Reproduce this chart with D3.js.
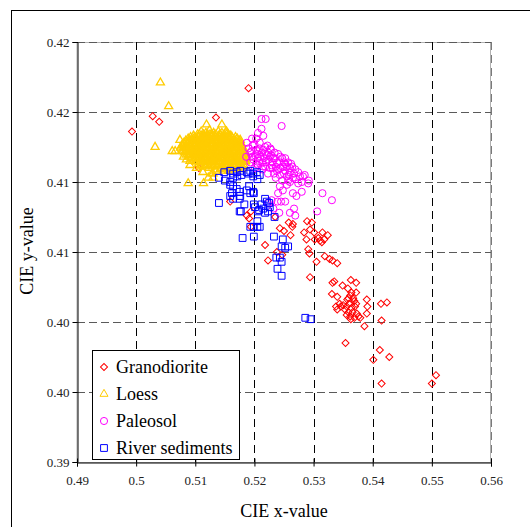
<!DOCTYPE html>
<html lang="en">
<head>
  <meta charset="UTF-8" />
  <title>CIE x-y scatter</title>
  <script src="https://d3js.org/d3.v7.min.js"></script>
  <style>
    body {
      margin: 0;
      background: #fff;
    }
  </style>
</head>
<body>

<svg id="chart" width="530" height="527"></svg>

<script>
/* ---------------- DATA ---------------- */

const categories = ["Granodiorite", "Loess", "Paleosol", "River sediments"];

const xTicks = [0.49, 0.50, 0.51, 0.52, 0.53, 0.54, 0.55, 0.56];
const xTickLabels = ["0.49", "0.5", "0.51", "0.52", "0.53", "0.54", "0.55", "0.56"];
const yTicks = [0.39, 0.395, 0.40, 0.405, 0.41, 0.415, 0.42];
const yTickLabels = ["0.39", "0.40", "0.40", "0.41", "0.41", "0.42", "0.42"];

const granodiorite = [
  [0.4993,0.4136],[0.5028,0.4147],[0.5039,0.4143],[0.5190,0.4167],[0.5135,0.4146],
  [0.5106,0.4110],[0.5159,0.4086],[0.5187,0.4076],[0.5191,0.4074],[0.5194,0.4079],
  [0.5194,0.4068],[0.5218,0.4055],[0.5223,0.4044],[0.5235,0.4075],[0.5238,0.4050],
  [0.5243,0.4067],[0.5258,0.4071],[0.5264,0.4068],[0.5261,0.4062],[0.5284,0.4064],
  [0.5289,0.4072],[0.5288,0.4059],[0.5294,0.4066],[0.5302,0.4059],[0.5308,0.4060],
  [0.5315,0.4064],[0.5314,0.4057],[0.5318,0.4059],[0.5291,0.4052],[0.5293,0.4049],
  [0.5305,0.4043],[0.5319,0.4047],[0.5332,0.4044],[0.5294,0.4032],[0.5332,0.4028],
  [0.5335,0.4029],[0.5349,0.4026],[0.5331,0.4020],[0.5363,0.4030],
  [0.5338,0.4011],[0.5344,0.4013],[0.5346,0.4011],[0.5340,0.4009],[0.5350,0.4012],
  [0.5357,0.4016],[0.5362,0.4019],[0.5359,0.4017],[0.5364,0.4021],[0.5367,0.4017],
  [0.5369,0.4015],[0.5360,0.4013],[0.5356,0.4011],[0.5364,0.4010],[0.5370,0.4011],
  [0.5359,0.4007],[0.5366,0.4007],[0.5373,0.4006],[0.5362,0.4004],[0.5369,0.4003],
  [0.5376,0.4004],[0.5363,0.4002],[0.5356,0.4005],[0.5372,0.4013],[0.5353,0.4009],
  [0.5390,0.4016],[0.5391,0.4011],[0.5390,0.4006],[0.5386,0.3997],[0.5379,0.4003],
  [0.5414,0.4013],[0.5424,0.4014],[0.5415,0.4001],[0.5354,0.3985],[0.5412,0.3980],
  [0.5401,0.3973],[0.5428,0.3975],[0.5415,0.3956],[0.5500,0.3956],[0.5507,0.3962],
  [0.5247,0.4048],[0.5297,0.4071],[0.5265,0.4070],[0.5250,0.4065],[0.5301,0.4064],
  [0.5324,0.4062],[0.5311,0.4058],[0.5327,0.4045],[0.5340,0.4042],[0.5372,0.4028],
  [0.5358,0.4024],[0.5372,0.4021],[0.5340,0.4018]
];

const loess = [
  [0.5041,0.4171],[0.5055,0.4154],[0.5032,0.4125],[0.5061,0.4122],[0.5080,0.4118],
  [0.5088,0.4099],[0.5114,0.4099],[0.5119,0.4141],[0.5145,0.4141],[0.5176,0.4130],
  [0.5122,0.4103],[0.5130,0.4106],[0.5091,0.4115],[0.5108,0.4111],[0.5153,0.4136],
  [0.5066,0.4122],[0.5079,0.4126],[0.5085,0.4116],[0.5091,0.4112],[0.5102,0.4110],
  [0.5113,0.4107],[0.5128,0.4106],[0.5130,0.4103],[0.5074,0.4130],
  [0.5110,0.4136],[0.5118,0.4135],[0.5124,0.4137],[0.5131,0.4135],[0.5139,0.4136],[0.5145,0.4135],[0.5152,0.4136],
  [0.5107,0.4134],[0.5114,0.4134],[0.5121,0.4134],[0.5128,0.4134],[0.5135,0.4134],[0.5142,0.4134],[0.5149,0.4134],[0.5156,0.4134],
  [0.5097,0.4133],[0.5104,0.4134],[0.5111,0.4133],[0.5119,0.4132],[0.5125,0.4134],[0.5132,0.4133],
  [0.5140,0.4133],[0.5146,0.4132],[0.5153,0.4134],[0.5160,0.4133],
  [0.5092,0.4132],[0.5099,0.4132],[0.5106,0.4132],[0.5113,0.4132],[0.5120,0.4132],[0.5127,0.4132],
  [0.5134,0.4132],[0.5141,0.4132],[0.5148,0.4132],[0.5155,0.4132],[0.5162,0.4132],[0.5168,0.4132],
  [0.5088,0.4131],[0.5095,0.4130],[0.5102,0.4131],[0.5109,0.4130],[0.5116,0.4131],[0.5123,0.4130],
  [0.5130,0.4131],[0.5137,0.4130],[0.5144,0.4131],[0.5151,0.4130],[0.5158,0.4131],[0.5165,0.4130],[0.5171,0.4131],
  [0.5084,0.41295],[0.5091,0.41295],[0.5098,0.41295],[0.5105,0.41295],[0.5112,0.41295],[0.5119,0.41295],
  [0.5126,0.41295],[0.5133,0.41295],[0.5140,0.41295],[0.5147,0.41295],[0.5154,0.41295],[0.5161,0.41295],
  [0.5168,0.41295],[0.5174,0.41295],
  [0.5081,0.4128],[0.5088,0.4129],[0.5095,0.4128],[0.5102,0.4127],[0.5109,0.4128],[0.5116,0.4129],
  [0.5123,0.4128],[0.5130,0.4127],[0.5137,0.4128],[0.5144,0.4129],[0.5151,0.4128],[0.5158,0.4127],
  [0.5165,0.4128],[0.5172,0.4128],[0.5177,0.4127],
  [0.5079,0.4127],[0.5086,0.4127],[0.5093,0.4127],[0.5100,0.4127],[0.5107,0.4127],[0.5114,0.4127],
  [0.5121,0.4127],[0.5128,0.4127],[0.5135,0.4127],[0.5142,0.4127],[0.5149,0.4127],[0.5156,0.4127],
  [0.5163,0.4127],[0.5170,0.4127],[0.5177,0.4128],
  [0.5077,0.4126],[0.5084,0.4125],[0.5091,0.4126],[0.5098,0.4126],[0.5105,0.4125],[0.5112,0.4126],
  [0.5119,0.4125],[0.5126,0.4126],[0.5133,0.4126],[0.5140,0.4125],[0.5147,0.4126],[0.5154,0.4125],
  [0.5161,0.4126],[0.5168,0.4125],[0.5175,0.4126],[0.5180,0.4125],
  [0.5075,0.41245],[0.5081,0.41245],[0.5088,0.41245],[0.5095,0.41245],[0.5102,0.41245],[0.5109,0.41245],
  [0.5116,0.41245],[0.5123,0.41245],[0.5130,0.41245],[0.5137,0.41245],[0.5144,0.41245],[0.5151,0.41245],
  [0.5158,0.41245],[0.5165,0.41245],[0.5172,0.41245],[0.5179,0.41245],
  [0.5078,0.4123],[0.5085,0.4124],[0.5092,0.4123],[0.5099,0.4122],[0.5106,0.4123],[0.5113,0.4124],
  [0.5120,0.4123],[0.5127,0.4122],[0.5134,0.4123],[0.5141,0.4124],[0.5148,0.4123],[0.5155,0.4122],
  [0.5162,0.4123],[0.5169,0.4124],[0.5176,0.4123],[0.5182,0.4122],
  [0.5079,0.4122],[0.5086,0.4122],[0.5093,0.4122],[0.5100,0.4122],[0.5107,0.4122],[0.5114,0.4122],
  [0.5121,0.4122],[0.5128,0.4122],[0.5135,0.4122],[0.5142,0.4122],[0.5149,0.4122],[0.5156,0.4122],
  [0.5163,0.4122],[0.5170,0.4122],[0.5177,0.4122],[0.5183,0.4121],
  [0.5082,0.4121],[0.5089,0.4120],[0.5096,0.4121],[0.5103,0.4121],[0.5110,0.4120],[0.5117,0.4121],
  [0.5124,0.4120],[0.5131,0.4121],[0.5138,0.4121],[0.5145,0.4120],[0.5152,0.4121],[0.5159,0.4120],
  [0.5166,0.4121],[0.5173,0.4120],[0.5180,0.4121],[0.5185,0.4120],
  [0.5085,0.41195],[0.5092,0.41195],[0.5099,0.41195],[0.5106,0.41195],[0.5113,0.41195],[0.5120,0.41195],
  [0.5127,0.41195],[0.5134,0.41195],[0.5141,0.41195],[0.5148,0.41195],[0.5155,0.41195],[0.5162,0.41195],
  [0.5169,0.41195],[0.5176,0.41195],[0.5183,0.41195],
  [0.5089,0.4118],[0.5096,0.4119],[0.5103,0.4118],[0.5110,0.4117],[0.5117,0.4118],[0.5124,0.4119],
  [0.5131,0.4118],[0.5138,0.4117],[0.5145,0.4118],[0.5152,0.4119],[0.5159,0.4118],[0.5166,0.4117],
  [0.5173,0.4118],[0.5180,0.4118],[0.5186,0.4117],
  [0.5093,0.4117],[0.5100,0.4117],[0.5107,0.4117],[0.5114,0.4117],[0.5121,0.4117],[0.5128,0.4117],
  [0.5135,0.4117],[0.5142,0.4117],[0.5149,0.4117],[0.5156,0.4117],[0.5163,0.4117],[0.5170,0.4117],
  [0.5177,0.4117],[0.5184,0.4116],
  [0.5097,0.4116],[0.5104,0.4115],[0.5111,0.4116],[0.5118,0.4116],[0.5125,0.4115],[0.5132,0.4116],
  [0.5139,0.4115],[0.5146,0.4116],[0.5153,0.4116],[0.5160,0.4115],[0.5167,0.4116],[0.5174,0.4115],
  [0.5181,0.4116],[0.5185,0.4115],
  [0.5101,0.41145],[0.5108,0.41145],[0.5115,0.41145],[0.5122,0.41145],[0.5129,0.41145],[0.5136,0.41145],
  [0.5143,0.41145],[0.5150,0.41145],[0.5157,0.41145],[0.5164,0.41145],[0.5171,0.41145],[0.5178,0.41145],
  [0.5184,0.41145],
  [0.5106,0.4113],[0.5113,0.4114],[0.5120,0.4113],[0.5127,0.4112],[0.5134,0.4113],[0.5141,0.4114],
  [0.5148,0.4113],[0.5155,0.4112],[0.5162,0.4113],[0.5169,0.4114],[0.5176,0.4113],[0.5182,0.4112],
  [0.5111,0.4112],[0.5118,0.4112],[0.5125,0.4112],[0.5132,0.4112],[0.5139,0.4112],[0.5146,0.4112],
  [0.5153,0.4112],[0.5160,0.4112],[0.5167,0.4112],[0.5174,0.4112],[0.5180,0.4111],
  [0.5116,0.4111],[0.5123,0.4110],[0.5130,0.4111],[0.5137,0.4111],[0.5144,0.4110],[0.5151,0.4111],
  [0.5158,0.4110],[0.5165,0.4111],[0.5172,0.4110],[0.5178,0.4109],
  [0.5135,0.4108],[0.5142,0.4109],[0.5149,0.4108],[0.5156,0.4108],[0.5163,0.4109]
];

const paleosol = [
  [0.5190,0.4124],[0.5197,0.4126],[0.5203,0.4123],[0.5193,0.4121],[0.5201,0.4119],
  [0.5209,0.4124],[0.5213,0.4121],[0.5206,0.4117],[0.5216,0.4117],[0.5223,0.4121],
  [0.5220,0.4114],[0.5226,0.4118],[0.5230,0.4114],[0.5235,0.4117],[0.5213,0.4114],
  [0.5198,0.4116],[0.5206,0.4112],[0.5218,0.4111],[0.5226,0.4110],[0.5236,0.4111],
  [0.5243,0.4114],[0.5240,0.4109],[0.5248,0.4111],[0.5252,0.4108],[0.5233,0.4106],
  [0.5243,0.4105],[0.5255,0.4104],[0.5260,0.4107],[0.5223,0.4106],[0.5213,0.4109],
  [0.5201,0.4110],[0.5193,0.4114],[0.5209,0.4128],[0.5218,0.4125],[0.5228,0.4123],
  [0.5240,0.4120],[0.5247,0.4117],[0.5257,0.4114],[0.5264,0.4111],[0.5269,0.4109],
  [0.5274,0.4107],[0.5277,0.4104],[0.5265,0.4103],[0.5257,0.4101],[0.5247,0.4101],
  [0.5236,0.4103],[0.5186,0.4118],[0.5206,0.4122],[0.5221,0.4119],[0.5231,0.4110],
  [0.5252,0.4113],[0.5260,0.4110],
  [0.5195,0.4122],[0.5200,0.4127],[0.5205,0.4120],[0.5210,0.4118],[0.5215,0.4123],
  [0.5219,0.4120],[0.5224,0.4116],[0.5228,0.4119],[0.5232,0.4117],[0.5229,0.4112],
  [0.5238,0.4114],[0.5244,0.4110],[0.5250,0.4114],[0.5255,0.4111],[0.5262,0.4113],
  [0.5267,0.4106],[0.5258,0.4105],[0.5250,0.4106],[0.5238,0.4108],[0.5215,0.4111],
  [0.5208,0.4115],[0.5196,0.4118],[0.5203,0.4113],[0.5227,0.4124],[0.5234,0.4121],
  [0.5244,0.4118],[0.5252,0.4117],[0.5270,0.4102],[0.5280,0.4100],[0.5285,0.4105],
  [0.5203,0.4131],[0.5215,0.4133],[0.5206,0.4135],
  [0.5212,0.4145],[0.5219,0.4145],[0.5246,0.4140],[0.5212,0.4138],[0.5196,0.4131],
  [0.5222,0.4126],[0.5187,0.4128],[0.5282,0.4104],[0.5291,0.4099],[0.5274,0.4099],
  [0.5280,0.4093],[0.5265,0.4092],[0.5260,0.4100],[0.5255,0.4098],[0.5243,0.4097],
  [0.5248,0.4094],[0.5240,0.4092],[0.5292,0.4101],[0.5315,0.4092],[0.5331,0.4087],
  [0.5306,0.4079],[0.5267,0.4081],[0.5260,0.4078],[0.5245,0.4086],[0.5239,0.4086],
  [0.5242,0.4078],[0.5223,0.4085],[0.5229,0.4087],[0.5232,0.4081],[0.5271,0.4090],
  [0.5269,0.4076],[0.5252,0.4086]
];

const riverSediments = [
  [0.5149,0.4107],[0.5159,0.4108],[0.5164,0.4106],[0.5170,0.4107],[0.5176,0.4108],
  [0.5187,0.4107],[0.5193,0.4108],[0.5198,0.4106],[0.5204,0.4107],[0.5209,0.4105],
  [0.5140,0.4103],[0.5150,0.4101],[0.5159,0.4100],[0.5164,0.4103],[0.5171,0.4104],
  [0.5178,0.4105],[0.5190,0.4106],[0.5198,0.4104],[0.5205,0.4102],[0.5159,0.4098],
  [0.5164,0.4097],[0.5170,0.4095],[0.5162,0.4092],[0.5175,0.4093],[0.5187,0.4094],
  [0.5191,0.4097],[0.5198,0.4093],[0.5193,0.4092],[0.5199,0.4092],[0.5159,0.4090],
  [0.5176,0.4090],[0.5164,0.4088],[0.5175,0.4088],[0.5140,0.4085],[0.5183,0.4084],
  [0.5199,0.4084],[0.5201,0.4082],[0.5218,0.4088],[0.5221,0.4086],[0.5225,0.4085],
  [0.5226,0.4082],[0.5223,0.4079],[0.5218,0.4078],[0.5215,0.4081],[0.5212,0.4084],
  [0.5175,0.4079],[0.5177,0.4079],[0.5208,0.4080],[0.5206,0.4079],[0.5234,0.4075],
  [0.5193,0.4068],[0.5199,0.4068],[0.5205,0.4068],[0.5209,0.4068],[0.5205,0.4072],
  [0.5180,0.4060],[0.5199,0.4061],[0.5233,0.4061],[0.5248,0.4059],[0.5246,0.4054],
  [0.5252,0.4053],[0.5257,0.4054],[0.5237,0.4046],[0.5243,0.4046],[0.5246,0.4043],
  [0.5239,0.4038],[0.5246,0.4033],[0.5286,0.4003],[0.5295,0.4002]
];

const seriesColors = ["#ff0000", "#ffcc00", "#ff00ff", "#0000ff"];
const serif = "'Liberation Serif', 'Times New Roman', serif";

/* ---------------- SVG SETUP ---------------- */

const svg = d3.select("#chart");
const margin = { left: 77, right: 491, top: 42, bottom: 462 };

const x = d3.scaleLinear().domain([0.49, 0.56]).range([margin.left, margin.right]);
const y = d3.scaleLinear().domain([0.39, 0.42]).range([margin.bottom, margin.top]);

// outer chart frame (runs off the right and bottom edge)
svg.append("rect")
  .attr("x", 11.5).attr("y", 10.5)
  .attr("width", 540).attr("height", 540)
  .attr("fill", "none").attr("stroke", "#000");

// plot area border
svg.append("rect")
  .attr("x", margin.left).attr("y", margin.top + 0.5)
  .attr("width", margin.right - margin.left - 0.5)
  .attr("height", margin.bottom - margin.top)
  .attr("fill", "none").attr("stroke", "#b0b0b0");

/* ---------------- GRID ---------------- */

svg.append("g")
  .selectAll("line")
  .data(yTicks.slice(1))
  .join("line")
  .attr("x1", margin.left).attr("x2", margin.right)
  .attr("y1", d => Math.round(y(d)) + 0.5)
  .attr("y2", d => Math.round(y(d)) + 0.5)
  .attr("stroke", "#5a5a5a")
  .attr("stroke-dasharray", "8,4");

svg.append("g")
  .selectAll("line")
  .data(xTicks.slice(1))
  .join("line")
  .attr("x1", d => Math.round(x(d)) + 0.5)
  .attr("x2", d => Math.round(x(d)) + 0.5)
  .attr("y1", margin.top).attr("y2", margin.bottom)
  .attr("stroke", (d, i) => i === xTicks.length - 2 ? "#7a7a7a" : "#000")
  .attr("stroke-dasharray", "8,5");

/* ---------------- AXES ---------------- */

const xAxis = d3.axisBottom(x)
  .tickValues(xTicks)
  .tickFormat((d, i) => xTickLabels[i])
  .tickSize(4)
  .tickPadding(9);

const yAxis = d3.axisLeft(y)
  .tickValues(yTicks)
  .tickFormat((d, i) => yTickLabels[i])
  .tickSize(5)
  .tickPadding(3);

const gx = svg.append("g")
  .attr("transform", `translate(0,${margin.bottom + 0.5})`)
  .call(xAxis);
gx.selectAll(".tick line").attr("y1", -4);

const gy = svg.append("g")
  .attr("transform", `translate(${margin.left + 0.5},0)`)
  .call(yAxis);

[gx, gy].forEach(g => {
  g.attr("font-family", null);
  g.select(".domain").attr("stroke", "#000");
  g.selectAll(".tick line").attr("stroke", "#000");
  g.selectAll(".tick text")
    .style("font-family", serif)
    .style("font-size", "13px")
    .attr("fill", "#222");
});

svg.append("text")
  .attr("x", 284).attr("y", 517)
  .attr("text-anchor", "middle")
  .style("font-family", serif)
  .style("font-size", "18px")
  .text("CIE x-value");

svg.append("text")
  .attr("transform", "translate(33,251) rotate(-90)")
  .attr("text-anchor", "middle")
  .style("font-family", serif)
  .style("font-size", "18px")
  .text("CIE y-value");

/* ---------------- MARKERS ---------------- */

const markerPath = [
  d3.symbol(d3.symbolSquare, 25)(),
  d3.symbol(d3.symbolTriangle, 28)(),
  d3.symbol(d3.symbolCircle, 40)(),
  d3.symbol(d3.symbolSquare, 46)()
];
const markerRotate = [45, 0, 0, 0];
const markerStroke = [1, 1.3, 1, 1];

const allSeries = [granodiorite, loess, paleosol, riverSediments];

allSeries.forEach((data, s) => {
  svg.append("g")
    .selectAll("path")
    .data(data)
    .join("path")
    .attr("d", markerPath[s])
    .attr("transform", d => `translate(${x(d[0])},${y(d[1])}) rotate(${markerRotate[s]})`)
    .attr("fill", "none")
    .attr("stroke", seriesColors[s])
    .attr("stroke-width", markerStroke[s]);
});

/* ---------------- LEGEND ---------------- */

const legend = svg.append("g");

legend.append("rect")
  .attr("x", 92.5).attr("y", 350.5)
  .attr("width", 147).attr("height", 109)
  .attr("fill", "#fff").attr("stroke", "#000");

const legendItems = legend.selectAll("g.item")
  .data(categories)
  .join("g")
  .attr("class", "item")
  .attr("transform", (d, i) => `translate(104,${367 + i * 27})`);

legendItems.append("path")
  .attr("d", (d, i) => markerPath[i])
  .attr("transform", (d, i) => `rotate(${markerRotate[i]})`)
  .attr("fill", "none")
  .attr("stroke", (d, i) => seriesColors[i]);

legendItems.append("text")
  .attr("x", 12)
  .attr("dy", "0.35em")
  .style("font-family", serif)
  .style("font-size", "18px")
  .text(d => d);
</script>

</body>
</html>
